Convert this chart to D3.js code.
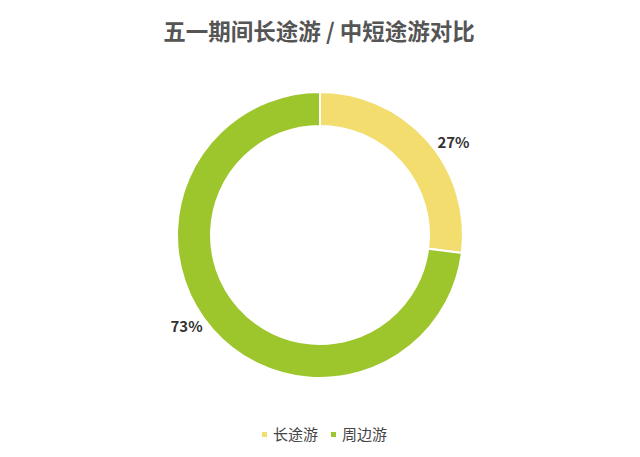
<!DOCTYPE html>
<html><head><meta charset="utf-8">
<script src="https://cdn.jsdelivr.net/npm/d3@7"></script>
<style>body{margin:0;background:#fff;}svg{display:block;}</style>
</head><body>
<svg id="c" width="640" height="457"></svg>
<script>
const title = "五一期间长途游 / 中短途游对比";
const categories = ["长途游", "周边游"];
const values = [27, 73];
const colors = ["#F3DD6E", "#9DC62D"];
const labels = ["27%", "73%"];

const svg = d3.select("#c");
const font = "'Noto Sans CJK SC', 'Noto Sans', sans-serif";
const cx = 320, cy = 235, rOuter = 143, rInner = 109;

svg.append("text").attr("x", 319).attr("y", 40).attr("text-anchor", "middle")
  .attr("font-family", font).attr("font-weight", "bold").attr("font-size", 22.5)
  .attr("fill", "#555").text(title);

const pie = d3.pie().sort(null).value(d => d)(values);
const arc = d3.arc().innerRadius(rInner).outerRadius(rOuter);
const g = svg.append("g").attr("transform", `translate(${cx},${cy})`);
g.selectAll("path").data(pie).enter().append("path")
  .attr("d", arc).attr("fill", (d, i) => colors[i])
  .attr("stroke", "#fff").attr("stroke-width", 2);

const labelArc = d3.arc().innerRadius(162).outerRadius(162);
g.selectAll("text.lbl").data(pie).enter().append("text").attr("class", "lbl")
  .attr("transform", d => {
    const shifted = { startAngle: d.startAngle + 0.12, endAngle: d.endAngle + 0.12 };
    return `translate(${labelArc.centroid(shifted)})`;
  })
  .attr("text-anchor", "middle").attr("dy", "0.35em")
  .attr("font-family", font).attr("font-weight", "bold").attr("font-size", 15)
  .attr("fill", "#333").text((d, i) => labels[i]);

const legX = [262, 331];
const lg = svg.append("g");
categories.forEach((c, i) => {
  lg.append("rect").attr("x", legX[i]).attr("y", 432).attr("width", 5).attr("height", 5)
    .attr("fill", colors[i]);
  lg.append("text").attr("x", legX[i] + 11).attr("y", 440)
    .attr("font-family", font).attr("font-size", 15).attr("fill", "#444").text(c);
});
</script>
</body></html>
